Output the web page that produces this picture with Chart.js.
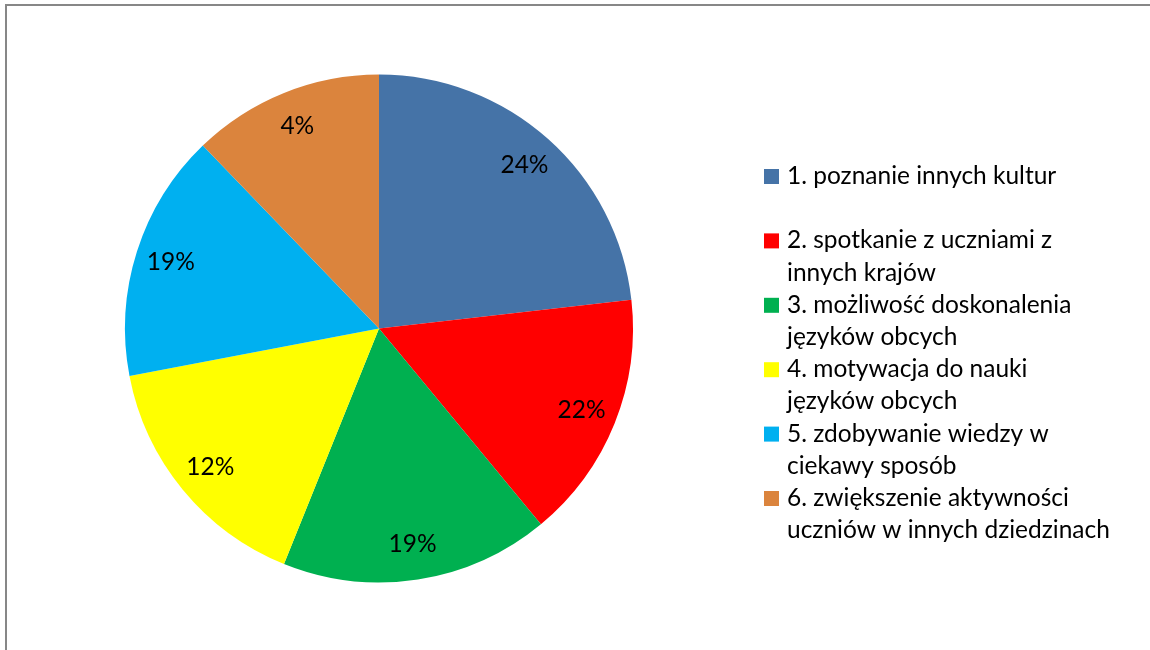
<!DOCTYPE html>
<html><head><meta charset="utf-8">
<script src="https://cdn.jsdelivr.net/npm/chart.js@4"></script>
<style>html,body{margin:0;padding:0;background:#fff}#wrap{position:relative;width:1150px;height:650px}canvas{display:block}</style>
</head><body><div id="wrap"><canvas id="c" width="1150" height="650"></canvas></div>
<script>
// ---- data ----
const categories = [
  ["1. poznanie innych kultur"],
  ["2. spotkanie z uczniami z", "innych krajów"],
  ["3. możliwość doskonalenia", "języków obcych"],
  ["4. motywacja do nauki", "języków obcych"],
  ["5. zdobywanie wiedzy w", "ciekawy sposób"],
  ["6. zwiększenie aktywności", "uczniów w innych dziedzinach"]
];
const sliceShares = [23.2, 15.8, 17.1, 15.9, 15.8, 12.2];
const labelTexts = ["24%", "22%", "19%", "12%", "19%", "4%"];
const sliceColors = ["#4573A7", "#FF0000", "#00B050", "#FFFF00", "#00B0F0", "#DB843D"];

const FONT_FAMILY = "Lato, 'Open Sans', sans-serif";
function fitSize(ctx, text, target) {
  ctx.font = "20px " + FONT_FAMILY;
  const w = ctx.measureText(text).width;
  return 20 * target / w;
}

const framePlugin = {
  id: 'frame',
  beforeDraw(chart) {
    const ctx = chart.ctx;
    ctx.save();
    ctx.fillStyle = '#ffffff';
    ctx.fillRect(0, 0, chart.width, chart.height);
    ctx.fillStyle = '#878787';
    ctx.fillRect(5, 4, chart.width - 5, 2);
    ctx.fillRect(5, 4, 2, chart.height - 4);
    ctx.restore();
  }
};

const labelPlugin = {
  id: 'sliceLabels',
  afterDatasetsDraw(chart) {
    const ctx = chart.ctx;
    const meta = chart.getDatasetMeta(0);
    ctx.save();
    const size = fitSize(ctx, "uczniów w innych dziedzinach", 323);
    ctx.font = size.toFixed(2) + "px " + FONT_FAMILY;
    ctx.fillStyle = '#000';
    ctx.textAlign = 'center';
    ctx.textBaseline = 'middle';
    meta.data.forEach((arc, i) => {
      const p = arc.getProps(['x', 'y', 'startAngle', 'endAngle', 'outerRadius'], true);
      const mid = (p.startAngle + p.endAngle) / 2;
      const r = p.outerRadius * 0.86;
      ctx.fillText(labelTexts[i], p.x + Math.cos(mid) * r, p.y + Math.sin(mid) * r);
    });
    ctx.restore();
  }
};

const legendPlugin = {
  id: 'sideLegend',
  afterDraw(chart) {
    const ctx = chart.ctx;
    ctx.save();
    const size = fitSize(ctx, "uczniów w innych dziedzinach", 323);
    ctx.font = size.toFixed(2) + "px " + FONT_FAMILY;
    ctx.textAlign = 'left';
    ctx.textBaseline = 'alphabetic';
    const colors = chart.data.datasets[0].backgroundColor;
    chart.data.labels.forEach((lines, i) => {
      const base = 184 + i * 64.4;
      ctx.fillStyle = colors[i];
      ctx.fillRect(764, base - 15, 15, 15);
      ctx.fillStyle = '#000';
      lines.forEach((ln, j) => ctx.fillText(ln, 787, base + j * 32.2));
    });
    ctx.restore();
  }
};

new Chart(document.getElementById('c'), {
  type: 'pie',
  data: {
    labels: categories,
    datasets: [{
      data: sliceShares,
      backgroundColor: sliceColors,
      borderWidth: 0
    }]
  },
  options: {
    responsive: false,
    animation: false,
    devicePixelRatio: 1,
    layout: { padding: { left: 125, right: 517, top: 74, bottom: 67 } },
    plugins: {
      legend: { display: false },
      tooltip: { enabled: false }
    }
  },
  plugins: [framePlugin, labelPlugin, legendPlugin]
});
</script>
</body></html>
